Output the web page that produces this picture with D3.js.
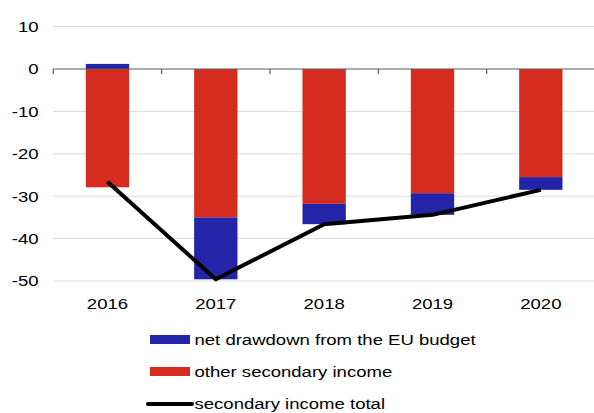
<!DOCTYPE html>
<html>
<head>
<meta charset="utf-8">
<script src="https://cdn.jsdelivr.net/npm/d3@7"></script>
<style>
  html, body { margin: 0; padding: 0; background: #fff; }
  svg { display: block; }
  text { font-family: "Liberation Sans", Arial, sans-serif; fill: #000; }
</style>
</head>
<body>
<svg id="chart" width="594" height="413"></svg>
<script>
// Secondary income balance by year (EUR bn)
const years = ["2016", "2017", "2018", "2019", "2020"];
const euDrawdown = [1.2, -14.6, -4.8, -5.1, -3.0];
const otherIncome = [-27.9, -35.0, -31.8, -29.3, -25.5];
const incomeTotal = [-26.6, -49.6, -36.6, -34.4, -28.5];
const yTicks = [10, 0, -10, -20, -30, -40, -50];

const seriesKeys = ["other", "eu"];
const seriesNames = {
  eu: "net drawdown from the EU budget",
  other: "other secondary income",
  total: "secondary income total"
};
const colors = { eu: "#2424a8", other: "#d62b1f", total: "#000000" };

const rows = years.map((y, i) => ({ year: y, eu: euDrawdown[i], other: otherIncome[i] }));

const svg = d3.select("#chart");
const FS = 15.2, SX = 1.22; // Text is drawn slightly widened

const x0 = 53.3, x1 = 595;
const x = d3.scaleBand().domain(years).range([x0, x1]).paddingInner(0.6).paddingOuter(0.3);
const cell = d3.scaleBand().domain(years).range([x0, x1]).padding(0);
const y = d3.scaleLinear().domain([-50, 10]).range([281, 26.6]);

// gridlines
svg.append("g").selectAll("line").data(yTicks.filter(t => t !== 0)).join("line")
  .attr("x1", x0).attr("x2", 594)
  .attr("y1", d => y(d)).attr("y2", d => y(d))
  .attr("stroke", "#d9d9d9").attr("stroke-width", 1);

// y tick labels
svg.append("g").selectAll("text").data(yTicks).join("text")
  .attr("transform", d => `translate(38.5,${y(d)}) scale(${SX},1)`)
  .attr("dy", "0.36em")
  .attr("text-anchor", "end")
  .attr("font-size", FS)
  .text(d => d);

// stacked bars (diverging around zero)
const stacked = d3.stack().keys(seriesKeys).offset(d3.stackOffsetDiverging)(rows);
svg.append("g").selectAll("g").data(stacked).join("g")
  .attr("fill", d => colors[d.key])
  .selectAll("rect").data(d => d).join("rect")
  .attr("x", d => x(d.data.year))
  .attr("width", x.bandwidth())
  .attr("y", d => y(Math.max(d[0], d[1])))
  .attr("height", d => Math.abs(y(d[0]) - y(d[1])));

// zero axis with category separators
const axis = svg.append("g").attr("stroke", "#5a5a5a").attr("stroke-width", 1.2);
axis.append("line").attr("x1", x0).attr("x2", 594).attr("y1", y(0)).attr("y2", y(0));
axis.selectAll("line.tick").data(years).join("line").attr("class", "tick")
  .attr("x1", d => cell(d)).attr("x2", d => cell(d))
  .attr("y1", y(0)).attr("y2", y(0) + 5);

// x labels
svg.append("g").selectAll("text").data(years).join("text")
  .attr("transform", d => `translate(${x(d) + x.bandwidth() / 2},308.5) scale(${SX},1)`)
  .attr("text-anchor", "middle")
  .attr("font-size", FS)
  .text(d => d);

// total line
const line = d3.line().x((d, i) => x(years[i]) + x.bandwidth() / 2).y(d => y(d));
svg.append("path").datum(incomeTotal)
  .attr("d", line)
  .attr("fill", "none")
  .attr("stroke", colors.total)
  .attr("stroke-width", 4)
  .attr("stroke-linejoin", "round");

// legend
const legendItems = [
  { key: "eu", type: "rect" },
  { key: "other", type: "rect" },
  { key: "total", type: "line" }
];
const lg = svg.append("g");
legendItems.forEach((it, i) => {
  const base = 344.5 + i * 32;
  if (it.type === "rect") {
    lg.append("rect").attr("x", 150).attr("y", base - 9.5).attr("width", 40).attr("height", 9)
      .attr("fill", colors[it.key]);
  } else {
    lg.append("line").attr("x1", 148).attr("x2", 192).attr("y1", base - 4.5).attr("y2", base - 4.5)
      .attr("stroke", colors.total).attr("stroke-width", 4).attr("stroke-linecap", "round");
  }
  lg.append("text")
    .attr("transform", `translate(194.5,${base}) scale(${SX},1)`)
    .attr("font-size", FS)
    .text(seriesNames[it.key]);
});
</script>
</body>
</html>
